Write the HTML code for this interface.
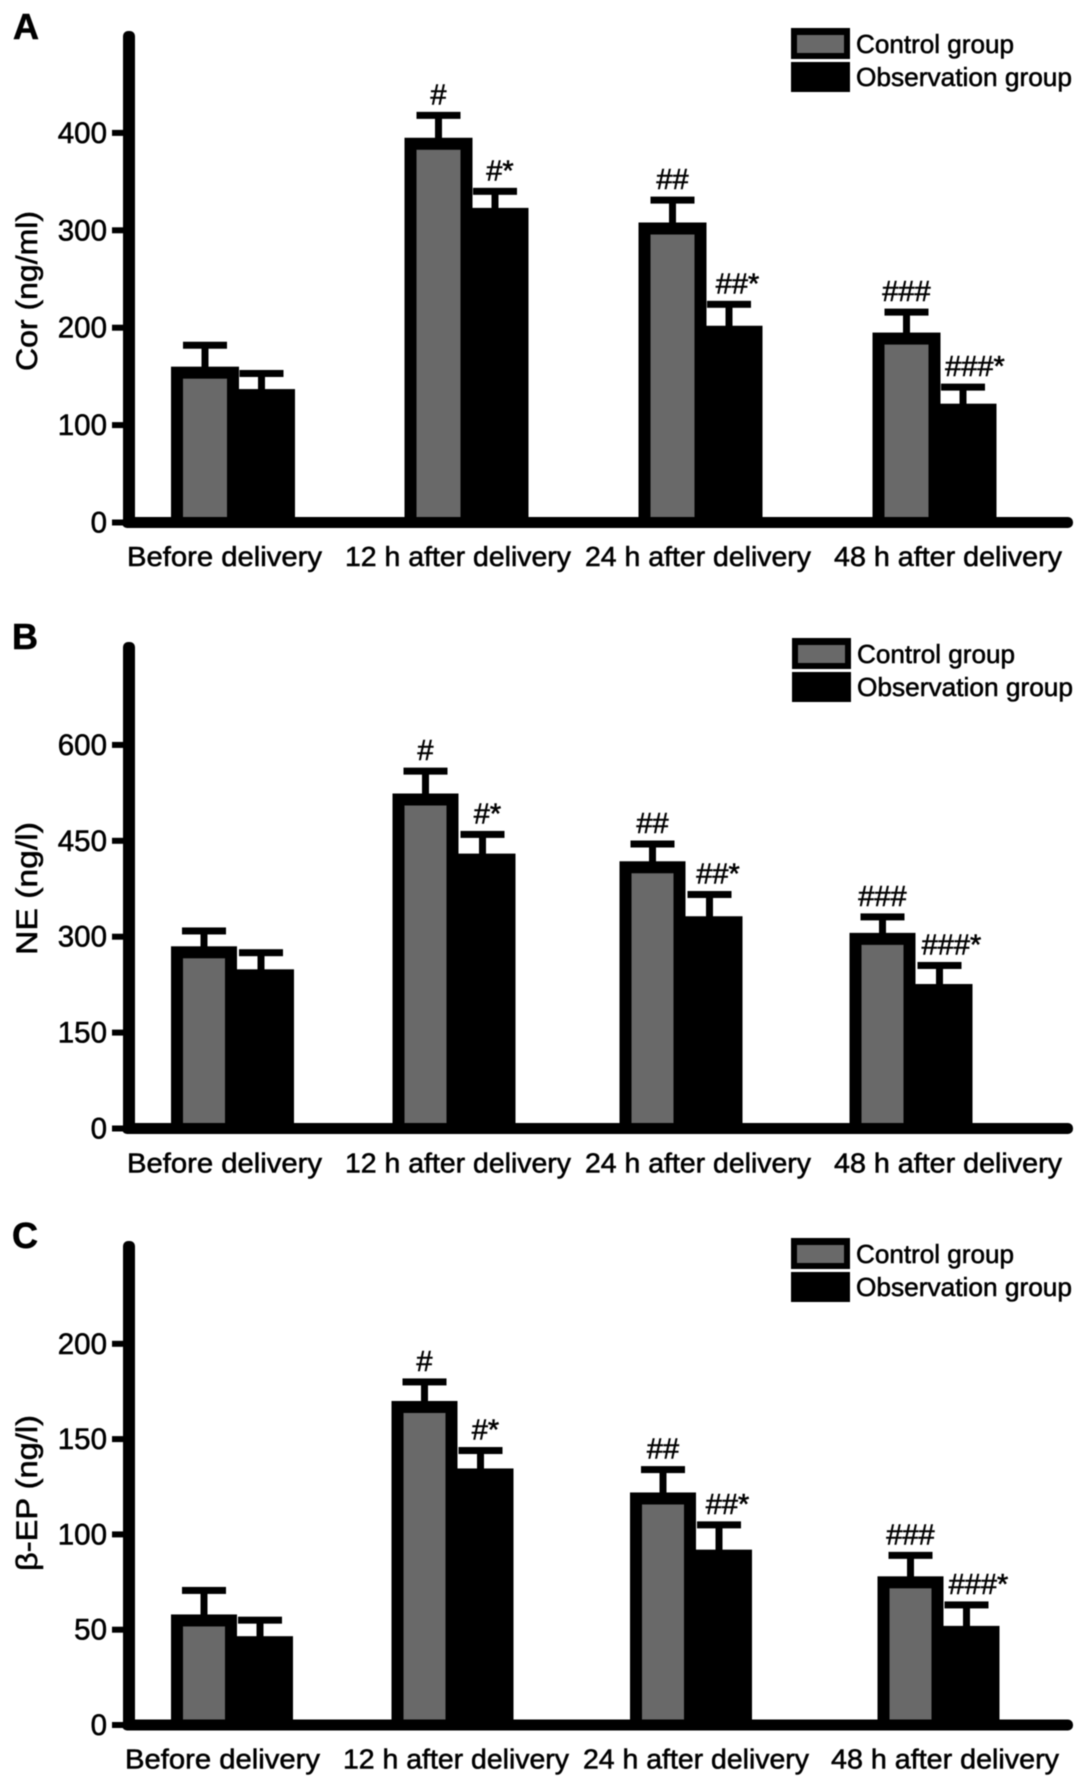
<!DOCTYPE html>
<html lang="en">
<head>
<meta charset="utf-8">
<title>Cor, NE and β-EP by group</title>
<style>
  html, body { margin: 0; padding: 0; background: #fff; }
  svg { display: block; filter: blur(0.6px); }
  text { font-family: "Liberation Sans", sans-serif; fill: #000; stroke: #000; stroke-width: 0.55px; }
</style>
</head>
<body>
<svg id="figure" xmlns="http://www.w3.org/2000/svg" width="1087" height="1788" viewBox="0 0 1087 1788">
  <rect width="1087" height="1788" fill="#fff"/>

  <g id="panel-a">
    <text x="13" y="39" font-size="36" font-weight="bold">A</text>
    <text transform="translate(37,371) rotate(-90)" font-size="30" textLength="160" lengthAdjust="spacingAndGlyphs">Cor (ng/ml)</text>
    <g>
      <rect x="791" y="28" width="59" height="31" fill="#000"/>
      <rect x="797" y="35" width="47" height="18" fill="#696969"/>
      <rect x="791" y="62" width="59" height="30" fill="#000"/>
      <text x="856" y="53" font-size="26" textLength="158" lengthAdjust="spacingAndGlyphs">Control group</text>
      <text x="856" y="86" font-size="26" textLength="216" lengthAdjust="spacingAndGlyphs">Observation group</text>
    </g>
  </g>

  <g id="panel-b">
    <text x="12" y="649" font-size="36" font-weight="bold">B</text>
    <text transform="translate(37,955) rotate(-90)" font-size="30" textLength="133" lengthAdjust="spacingAndGlyphs">NE (ng/l)</text>
    <g>
      <rect x="792" y="638" width="59" height="31" fill="#000"/>
      <rect x="798" y="645" width="47" height="18" fill="#696969"/>
      <rect x="792" y="672" width="59" height="30" fill="#000"/>
      <text x="857" y="663" font-size="26" textLength="158" lengthAdjust="spacingAndGlyphs">Control group</text>
      <text x="857" y="696" font-size="26" textLength="216" lengthAdjust="spacingAndGlyphs">Observation group</text>
    </g>
  </g>

  <g id="panel-c">
    <text x="12" y="1248" font-size="36" font-weight="bold">C</text>
    <text transform="translate(37,1571) rotate(-90)" font-size="30" textLength="156" lengthAdjust="spacingAndGlyphs">β-EP (ng/l)</text>
    <g>
      <rect x="791" y="1238" width="59" height="31" fill="#000"/>
      <rect x="797" y="1245" width="47" height="18" fill="#696969"/>
      <rect x="791" y="1272" width="59" height="30" fill="#000"/>
      <text x="856" y="1263" font-size="26" textLength="158" lengthAdjust="spacingAndGlyphs">Control group</text>
      <text x="856" y="1296" font-size="26" textLength="216" lengthAdjust="spacingAndGlyphs">Observation group</text>
    </g>
  </g>
</svg>

<script>
// ---- Data ----
const categories = ['Before delivery', '12 h after delivery', '24 h after delivery', '48 h after delivery'];

const corTicks = [0, 100, 200, 300, 400];
const corControl = [160, 395, 308, 195];
const corControlUpper = [182, 418, 331, 216];
const corObservation = [137, 323, 202, 122];
const corObservationUpper = [153, 340, 224, 139];

const neTicks = [0, 150, 300, 450, 600];
const neControl = [285, 524, 418, 306];
const neControlUpper = [309, 559, 445, 331];
const neObservation = [249, 430, 332, 226];
const neObservationUpper = [275, 460, 366, 255];

const epTicks = [0, 50, 100, 150, 200];
const epControl = [58, 170, 122, 78];
const epControlUpper = [70.6, 180, 134, 89];
const epObservation = [46.6, 134.6, 92, 52];
const epObservationUpper = [55, 144, 105, 63];

const controlMarks = ['', '#', '##', '###'];
const observationMarks = ['', '#*', '##*', '###*'];

// ---- Layout (axis geometry per panel) ----
const SVG_NS = 'http://www.w3.org/2000/svg';
const panelA = {
  id: 'panel-a', key: 'a', axisTop: 31, baseline: 522.5, pxPerUnit: 0.974,
  bandStart: i => [171, 404.5, 638.5, 872.5][i], controlW: 68, obsW: 67, obsOffset: 57,
  labelBaseline: 566, labelX: i => [127, 345, 585, 834][i], labelW: i => [195, 226, 226, 228][i],
  ticks: corTicks, control: corControl, controlUpper: corControlUpper,
  observation: corObservation, observationUpper: corObservationUpper
};
const panelB = {
  id: 'panel-b', key: 'b', axisTop: 642, baseline: 1128.5, pxPerUnit: 0.6393,
  bandStart: i => [171, 392.5, 619.5, 849.5][i], controlW: 66, obsW: 66, obsOffset: 57,
  labelBaseline: 1172.5, labelX: i => [127, 345, 585, 834][i], labelW: i => [195, 226, 226, 228][i],
  ticks: neTicks, control: neControl, controlUpper: neControlUpper,
  observation: neObservation, observationUpper: neObservationUpper
};
const panelC = {
  id: 'panel-c', key: 'c', axisTop: 1241, baseline: 1725, pxPerUnit: 1.906,
  bandStart: i => [171, 391.5, 630, 877.5][i], controlW: 66, obsW: 66, obsOffset: 56,
  labelBaseline: 1768.5, labelX: i => [125, 343, 583, 831][i], labelW: i => [195, 226, 226, 228][i],
  ticks: epTicks, control: epControl, controlUpper: epControlUpper,
  observation: epObservation, observationUpper: epObservationUpper
};

const BORDER = 12;
const GRAY = '#696969';
const CAP_W = 44;
const CAP_H = 7;
const STEM_W = 7;

function make(tag, attrs) {
  const el = document.createElementNS(SVG_NS, tag);
  for (const k in attrs) el.setAttribute(k, attrs[k]);
  return el;
}

function yScale(panel, v) {
  return panel.baseline - v * panel.pxPerUnit;
}

function drawError(root, panel, cx, value, upper, name) {
  const capY = yScale(panel, upper);
  const topY = yScale(panel, value);
  const stem = make('rect', { x: cx - STEM_W / 2, y: capY, width: STEM_W, height: topY - capY + 2, fill: '#000' });
  
  
  root.appendChild(stem);
  const cap = make('rect', { x: cx - CAP_W / 2, y: capY - CAP_H / 2, width: CAP_W, height: CAP_H, fill: '#000' });
  
  
  root.appendChild(cap);
}

function drawMark(root, panel, cx, upper, label, name) {
  if (!label) return;
  const t = make('text', { x: cx, y: yScale(panel, upper) - 11, 'font-size': 29, 'text-anchor': 'middle' });
  t.textContent = label;
  
  
  root.appendChild(t);
}

function drawPanel(panel) {
  const root = document.getElementById(panel.id);

  panel.control.forEach((v, i) => {
    const left = panel.bandStart(i);
    const ctrlCx = left + panel.controlW / 2;
    const obsLeft = left + panel.obsOffset;
    const obsCx = obsLeft + panel.obsW / 2;

    drawError(root, panel, ctrlCx, v, panel.controlUpper[i], 'control-' + i);
    drawError(root, panel, obsCx, panel.observation[i], panel.observationUpper[i], 'observation-' + i);

    const obsTop = yScale(panel, panel.observation[i]);
    const obs = make('rect', { x: obsLeft, y: obsTop, width: panel.obsW, height: panel.baseline - obsTop, fill: '#000' });
    
    
    root.appendChild(obs);

    const ctrlTop = yScale(panel, v);
    const outer = make('rect', { x: left, y: ctrlTop, width: panel.controlW, height: panel.baseline - ctrlTop, fill: '#000' });
    
    
    root.appendChild(outer);
    const inner = make('rect', { x: left + BORDER, y: ctrlTop + BORDER, width: panel.controlW - 2 * BORDER, height: Math.max(0, panel.baseline - ctrlTop - BORDER), fill: GRAY });
    
    
    root.appendChild(inner);

    drawMark(root, panel, ctrlCx, panel.controlUpper[i], controlMarks[i], 'control-' + i);
    const markShift = 5 + (observationMarks[i].length - 2) * 3.5;
    drawMark(root, panel, obsCx + markShift, panel.observationUpper[i], observationMarks[i], 'observation-' + i);

    const label = make('text', { x: panel.labelX(i), y: panel.labelBaseline, 'font-size': 28, textLength: panel.labelW(i), lengthAdjust: 'spacingAndGlyphs' });
    label.textContent = categories[i];
    
    
    root.appendChild(label);
  });

  const yAxis = make('rect', { x: 123, y: panel.axisTop, width: 12, height: panel.baseline - panel.axisTop + 5, rx: 5, fill: '#000' });
  
  
  root.appendChild(yAxis);

  const xAxis = make('rect', { x: 122, y: panel.baseline - 5.5, width: 951, height: 11, rx: 5, fill: '#000' });
  
  
  root.appendChild(xAxis);

  panel.ticks.forEach((t, i) => {
    const y = yScale(panel, t);
    const mark = make('rect', { x: 112, y: y - 3, width: 12, height: 6, fill: '#000' });
    
    
    root.appendChild(mark);
    const label = make('text', { x: 107, y: y + 10, 'font-size': 29.5, 'text-anchor': 'end' });
    label.textContent = String(t);
    
    
    root.appendChild(label);
  });
}

drawPanel(panelA);
drawPanel(panelB);
drawPanel(panelC);
</script>
</body>
</html>
